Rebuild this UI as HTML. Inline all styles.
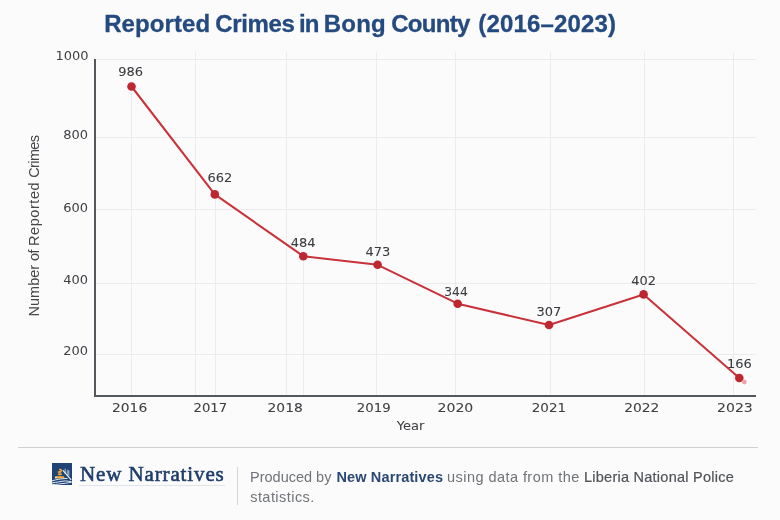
<!DOCTYPE html>
<html><head><meta charset="utf-8"><style>
html,body{margin:0;padding:0;}
body{width:780px;height:520px;overflow:hidden;background:#fbfbfc;position:relative;font-family:"Liberation Sans",sans-serif;}
.title span{position:absolute;top:0;}
.title{position:absolute;left:0;top:8px;width:780px;height:32px;font:bold 24px "Liberation Sans",sans-serif;color:#244a7f;letter-spacing:-0.2px;white-space:nowrap;line-height:32px;-webkit-text-stroke:0.3px #244a7f;}
svg{position:absolute;left:0;top:0;}
#wrap{position:absolute;left:0;top:0;width:780px;height:520px;filter:blur(0.4px);}
.ytitle{position:absolute;left:33.5px;top:226px;transform:translate(-50%,-50%) rotate(-90deg);font:14.5px "Liberation Sans",sans-serif;color:#45474a;white-space:nowrap;line-height:16px;}
.hr{position:absolute;left:17.5px;top:447px;width:740px;height:1px;background:#cfd0d4;}
.logo{position:absolute;left:52px;top:463px;width:20px;height:22.4px;}
.brand{position:absolute;left:80px;top:463.6px;font:21px "Liberation Serif",serif;letter-spacing:0.88px;color:#1f3d6b;white-space:nowrap;line-height:1;-webkit-text-stroke:0.6px #1f3d6b;}
.brandline{position:absolute;left:79px;top:485px;width:146px;height:1px;background:#e2e3e7;}
.vsep{position:absolute;left:237px;top:467px;width:1px;height:38px;background:#d4d5d9;}
.cr{position:absolute;font:14.5px "Liberation Sans",sans-serif;color:#707378;line-height:1;white-space:nowrap;}
.cr.b{color:#2a4873;font-weight:bold;}
.cr.lnp{color:#505358;-webkit-text-stroke:0.2px #505358;}
</style></head><body><div id="wrap">
<div class="title"><span style="left:104.2px;letter-spacing:0.1px">Reported</span> <span style="left:215.2px;letter-spacing:-0.35px">Crimes</span> <span style="left:298.9px;letter-spacing:-0.9px">in</span> <span style="left:323.8px;letter-spacing:0.2px">Bong</span> <span style="left:391.2px;letter-spacing:-0.7px">County</span> <span style="left:478.3px;letter-spacing:0.15px">(2016–2023)</span></div>
<svg width="780" height="520" viewBox="0 0 780 520">
<g stroke="#ebecef" stroke-width="1" fill="none">
<line x1="96" y1="59.5" x2="756" y2="59.5"/>
<line x1="96" y1="137.5" x2="756" y2="137.5"/>
<line x1="96" y1="209.5" x2="756" y2="209.5"/>
<line x1="96" y1="283.5" x2="756" y2="283.5"/>
<line x1="96" y1="354.5" x2="756" y2="354.5"/>
<line x1="195.5" y1="52" x2="195.5" y2="395"/>
<line x1="286.5" y1="52" x2="286.5" y2="395"/>
<line x1="376.5" y1="52" x2="376.5" y2="395"/>
<line x1="455.5" y1="52" x2="455.5" y2="395"/>
<line x1="550.5" y1="52" x2="550.5" y2="395"/>
<line x1="644.5" y1="52" x2="644.5" y2="395"/>
<line x1="733.5" y1="52" x2="733.5" y2="395"/>
<line x1="131.5" y1="86" x2="131.5" y2="395"/>
<line x1="215.5" y1="194" x2="215.5" y2="395"/>
<line x1="303.5" y1="256" x2="303.5" y2="395"/>
</g>
<g stroke="#54575c" stroke-width="2" fill="none">
<line x1="95" y1="59" x2="95" y2="397"/>
<line x1="94" y1="396" x2="756" y2="396"/>
</g>
<polyline fill="none" stroke="#c9323a" stroke-width="2.05" stroke-linejoin="round" points="131.5,86.5 214.8,194.4 303.3,256.2 377.6,264.8 457.7,303.7 549,325 643.6,294.4 739.3,378"/>
<g fill="#bd272f">
<circle cx="131.5" cy="86.5" r="4.3"/>
<circle cx="214.8" cy="194.4" r="4.3"/>
<circle cx="303.3" cy="256.2" r="4.3"/>
<circle cx="377.6" cy="264.8" r="4.3"/>
<circle cx="457.7" cy="303.7" r="4.3"/>
<circle cx="549" cy="325" r="4.3"/>
<circle cx="643.6" cy="294.4" r="4.3"/>
<circle cx="739.3" cy="378" r="4.3"/>
</g>
<circle cx="744.4" cy="382.1" r="2.4" fill="#f0a0a8"/>
<g font-family="DejaVu Sans" font-size="13" fill="#3a3b3e" stroke="#3a3b3e" stroke-width="0.08" text-anchor="middle">
<text x="130.7" y="76.2">986</text>
<text x="220" y="182.3">662</text>
<text x="303.2" y="247">484</text>
<text x="377.9" y="255.7">473</text>
<text x="456" y="296" textLength="23.4" lengthAdjust="spacingAndGlyphs">344</text>
<text x="548.9" y="315.7">307</text>
<text x="643.6" y="284.8">402</text>
<text x="739.5" y="367.5">166</text>
</g>
<g font-family="DejaVu Sans" font-size="13" fill="#404144" text-anchor="end">
<text x="88.5" y="60.1">1000</text>
<text x="88" y="139.2">800</text>
<text x="88" y="211.8">600</text>
<text x="88" y="284.4">400</text>
<text x="88" y="355">200</text>
</g>
<g font-family="DejaVu Sans" font-size="13" fill="#3e3f42" stroke="#3e3f42" stroke-width="0.08" text-anchor="middle" lengthAdjust="spacingAndGlyphs">
<text x="129.6" y="412" textLength="35.2" lengthAdjust="spacingAndGlyphs">2016</text>
<text x="210.3" y="412" textLength="33.6" lengthAdjust="spacingAndGlyphs">2017</text>
<text x="285.2" y="412" textLength="35.3" lengthAdjust="spacingAndGlyphs">2018</text>
<text x="373.8" y="412" textLength="34.0" lengthAdjust="spacingAndGlyphs">2019</text>
<text x="455.4" y="412" textLength="35.8" lengthAdjust="spacingAndGlyphs">2020</text>
<text x="548.9" y="412" textLength="34.3" lengthAdjust="spacingAndGlyphs">2021</text>
<text x="641.8" y="412" textLength="35.2" lengthAdjust="spacingAndGlyphs">2022</text>
<text x="734.9" y="412" textLength="35.7" lengthAdjust="spacingAndGlyphs">2023</text>
</g>
<text x="410.5" y="430.2" font-family="DejaVu Sans" font-size="13" fill="#3e3f42" stroke="#3e3f42" stroke-width="0.08" text-anchor="middle">Year</text>
</svg>
<div class="ytitle">Number <span style="letter-spacing:-0.6px">of</span> <span style="letter-spacing:0.55px">Reported</span> <span style="letter-spacing:-0.6px">Crimes</span></div>
<div class="hr"></div>
<svg class="logo" width="20" height="22.4" viewBox="0 0 20 22.4" style="left:52px;top:463px;">
<rect width="20" height="22.4" fill="#1f4374"/>
<path d="M13.1 11 L13.1 5.6 L16.9 12.6 L16.9 7.2 Z" fill="#7a9cc4" opacity="0.5"/>
<path d="M13.1 5.6 L13.1 11 M15.8 6.6 L15.8 12.4 M16.9 7.4 L16.9 12.8" stroke="#dbe7f3" stroke-width="0.75" fill="none" opacity="0.9"/>
<path d="M10.9 7.3 L19.2 16.8" stroke="#eef4fa" stroke-width="1.15" fill="none"/>
<g fill="#eeaa3c">
<path d="M7.1 6.2 C7.6 5.3 9.4 6.0 10.6 7.2 C10.9 7.9 9.8 8.3 8.7 7.7 C7.6 7.2 6.8 6.9 7.1 6.2 Z"/>
<ellipse cx="7.6" cy="8.9" rx="2.25" ry="1.0" transform="rotate(-5 7.6 8.9)"/>
<ellipse cx="7.9" cy="11.3" rx="2.2" ry="1.05"/>
<ellipse cx="7.9" cy="14.2" rx="4.6" ry="1.3"/>
</g>
<ellipse cx="3.9" cy="14.4" rx="1.0" ry="1.0" fill="#f6eadb"/>
<g stroke="#e4ecf5" stroke-width="1.0" fill="none" stroke-linecap="round">
<path d="M0.2 17.8 C2.5 17.2 4.5 16.6 6.4 16.3 C9 15.9 12 15.6 15.2 15.4"/>
<path d="M0.2 19.9 C2.5 19.6 4.5 19.1 6.4 18.9 C9 18.5 11 18.0 13.5 17.9 C15.5 17.9 17 18.6 18.6 18.6"/>
<path d="M0.2 21.7 C2.5 21.6 4.5 21.3 6.4 21.1 C9 20.8 11 20.4 13.5 20.2 C15.5 20 17.5 19.6 19.8 19.0"/>
</g>
</svg>
<div class="brand">New Narratives</div>
<div class="brandline"></div>
<div class="vsep"></div>
<div class="cr" style="left:250px;top:469.6px;letter-spacing:0px">Produced by</div>
<div class="cr b" style="left:336.5px;top:469.6px;letter-spacing:0.13px">New Narratives</div>
<div class="cr" style="left:447px;top:469.6px;letter-spacing:0.45px">using data from the</div>
<div class="cr lnp" style="left:584px;top:469.6px;letter-spacing:0.25px">Liberia National Police</div>
<div class="cr" style="left:250.2px;top:490.3px;letter-spacing:0.45px">statistics.</div>
</div></body></html>
